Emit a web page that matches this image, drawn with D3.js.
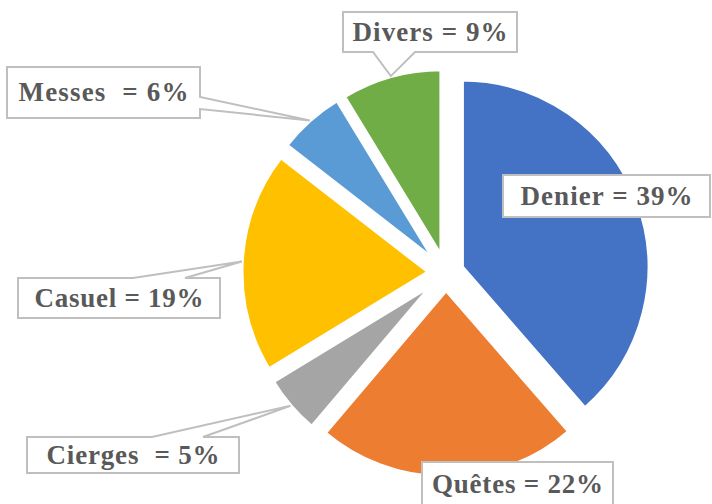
<!DOCTYPE html>
<html>
<head>
<meta charset="utf-8">
<script src="https://cdn.jsdelivr.net/npm/d3@7"></script>
<style>
  html, body { margin: 0; padding: 0; background: #fff; }
  text { white-space: pre; }
</style>
</head>
<body>
<div id="chart-area"></div>
<script>
// Data (shares; labels as printed on the chart)
const categories = ["Denier", "Quêtes", "Cierges", "Casuel", "Messes", "Divers"];
const values = [38.6, 22.6, 5.1, 19.2, 5.8, 8.7];
const labelTexts = ["Denier = 39%", "Quêtes = 22%", "Cierges  = 5%", "Casuel = 19%", "Messes  = 6%", "Divers = 9%"];
const colors = ["#4472C4", "#ED7D31", "#A5A5A5", "#FFC000", "#5B9BD5", "#70AD47"];

// Layout of the callout boxes (edge = side the pointer leaves from, a/b = pointer base)
const calloutLayout = {
    "Denier":  { x: 503, y: 175, w: 207, h: 42, tw: 172, edge: null },
    "Quêtes":  { x: 422, y: 462, w: 191, h: 44, tw: 171, edge: null },
    "Cierges": { x: 27,  y: 437, w: 212, h: 36, tw: 173, edge: "top", a: 152, b: 203 },
    "Casuel":  { x: 18,  y: 278, w: 202, h: 40, tw: 169, edge: "top", a: 133, b: 185 },
    "Messes":  { x: 7,   y: 67,  w: 193, h: 51, tw: 170, edge: "right", a: 97, b: 109 },
    "Divers":  { x: 343, y: 12,  w: 174, h: 40, tw: 155, edge: "bottom", a: 373, b: 415 }
};

const width = 712, height = 504;
const cx = 446, cy = 273, radius = 187.5, explode = 17;
const fontSize = 27;

const svg = d3.select("#chart-area")
    .append("svg")
    .attr("width", width)
    .attr("height", height);

const pie = d3.pie().sort(null).value(d => d.value);
const arc = d3.arc().innerRadius(0).outerRadius(radius);

const data = categories.map((c, i) => ({ name: c, value: values[i], color: colors[i], label: labelTexts[i] }));
const arcs = pie(data);

// offset of each slice along its bisector
arcs.forEach(d => {
    const mid = (d.startAngle + d.endAngle) / 2;
    d.ox = cx + explode * Math.sin(mid);
    d.oy = cy - explode * Math.cos(mid);
    d.tipX = d.ox + radius * Math.sin(mid);
    d.tipY = d.oy - radius * Math.cos(mid);
});

svg.append("g")
    .selectAll("path")
    .data(arcs)
    .enter().append("path")
    .attr("transform", d => `translate(${d.ox}, ${d.oy})`)
    .attr("d", arc)
    .attr("fill", d => d.data.color)
    .attr("stroke", "#fff")
    .attr("stroke-width", 4)
    .attr("stroke-linejoin", "miter");

// Callouts
function calloutPath(L, tx, ty) {
    const x0 = L.x, y0 = L.y, x1 = L.x + L.w, y1 = L.y + L.h;
    const pts = [[x0, y0]];
    if (L.edge === "top") pts.push([L.a, y0], [tx, ty], [L.b, y0]);
    pts.push([x1, y0]);
    if (L.edge === "right") pts.push([x1, L.a], [tx, ty], [x1, L.b]);
    pts.push([x1, y1]);
    if (L.edge === "bottom") pts.push([L.b, y1], [tx, ty], [L.a, y1]);
    pts.push([x0, y1]);
    return "M" + pts.map(p => p.join(",")).join("L") + "Z";
}

const callouts = svg.append("g")
    .selectAll("g")
    .data(arcs)
    .enter().append("g");

callouts.append("path")
    .attr("d", d => calloutPath(calloutLayout[d.data.name], d.tipX, d.tipY))
    .attr("fill", "#fff")
    .attr("stroke", "#BFBFBF")
    .attr("stroke-width", 2);

callouts.append("text")
    .attr("x", d => calloutLayout[d.data.name].x + calloutLayout[d.data.name].w / 2)
    .attr("y", d => calloutLayout[d.data.name].y + calloutLayout[d.data.name].h / 2 + fontSize * 0.33)
    .attr("text-anchor", "middle")
    .attr("textLength", d => calloutLayout[d.data.name].tw)
    .attr("lengthAdjust", "spacing")
    .style("font-family", "'Liberation Serif', 'DejaVu Serif', serif")
    .style("font-weight", "bold")
    .style("font-size", fontSize + "px")
    .style("fill", "#595959")
    .text(d => d.data.label);
</script>
</body>
</html>
